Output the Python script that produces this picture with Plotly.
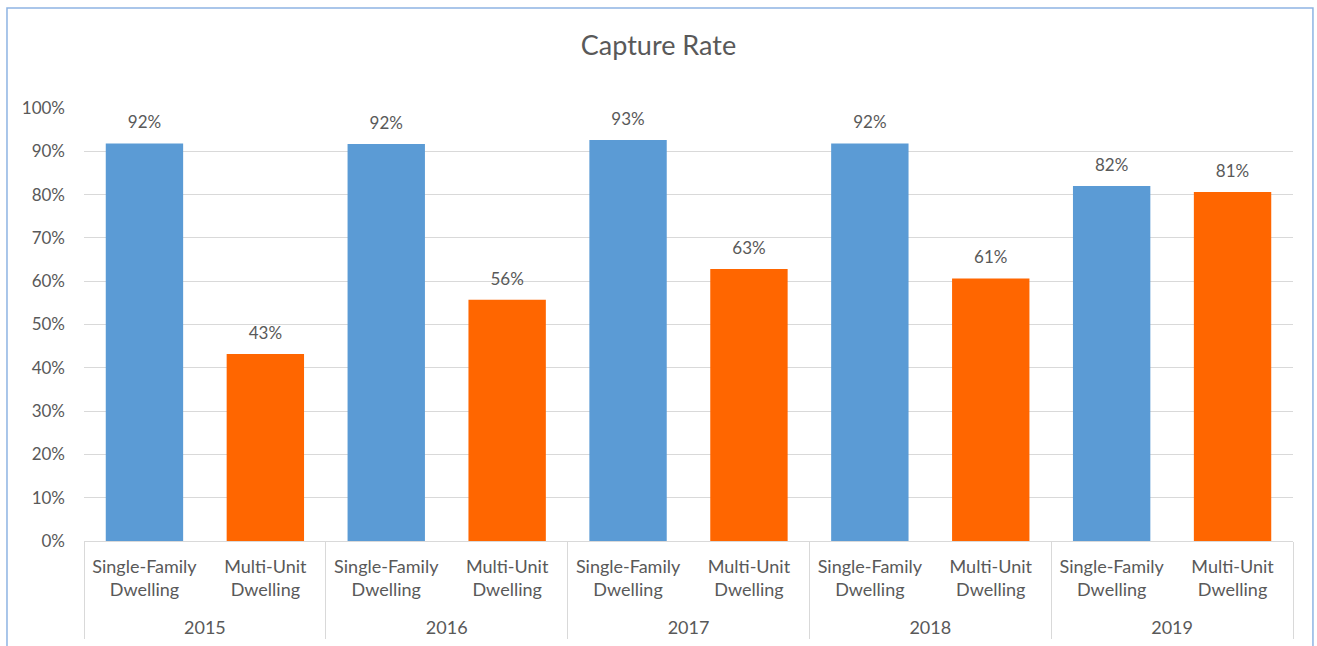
import plotly.graph_objects as go

years = ["2015", "2015", "2016", "2016", "2017", "2017", "2018", "2018", "2019", "2019"]
types = ["Single-Family<br>Dwelling<br> ", "Multi-Unit<br>Dwelling<br> "] * 5
values = [0.918, 0.432, 0.917, 0.557, 0.926, 0.628, 0.918, 0.606, 0.82, 0.806]
colors = ["#5B9BD5", "#FF6600"] * 5
tick_vals = [i / 10 for i in range(11)]
tick_text = [f"{i*10}%" for i in range(11)]

FONT = "Lato, Open Sans, sans-serif"
GRAY = "#595959"

fig = go.Figure()
fig.add_trace(go.Bar(
    x=[years, types], y=values,
    marker=dict(color=colors, line=dict(width=0)),
    hoverinfo="skip",
))
fig.add_trace(go.Scatter(
    x=[years, types], y=values,
    mode="markers+text",
    text=[f"{round(v*100)}%" for v in values],
    textposition="top center",
    marker=dict(size=16, color="rgba(0,0,0,0)"),
    textfont=dict(family=FONT, size=17, color=GRAY),
    hoverinfo="skip",
    cliponaxis=False,
))

fig.update_layout(
    width=1317, height=646,
    margin=dict(l=84, r=24, t=108, b=105),
    paper_bgcolor="white", plot_bgcolor="white",
    showlegend=False,
    bargap=0.36,
    title=dict(text="Capture Rate", x=0.5, xanchor="center", y=0.93, yanchor="middle",
               font=dict(family=FONT, size=27, color=GRAY)),
    font=dict(family=FONT, size=17, color=GRAY),
    xaxis=dict(
        type="multicategory",
        range=[-0.5, 9.5], autorange=False,
        automargin=False,
        showline=True, linecolor="#D9D9D9", linewidth=1,
        showdividers=True, dividercolor="#D9D9D9", dividerwidth=1,
        tickfont=dict(family=FONT, size=18, color=GRAY),
        ticks="",
        ticklabelstandoff=9,
        showgrid=False,
    ),
    yaxis=dict(
        range=[0, 1], tickvals=tick_vals, ticktext=tick_text,
        automargin=False,
        showgrid=True, gridcolor="#D9D9D9", gridwidth=1,
        zeroline=False, showline=False,
        tickfont=dict(family=FONT, size=17, color=GRAY),
        ticks="", ticklabelstandoff=18,
    ),
    shapes=[dict(
        type="rect", xref="paper", yref="paper",
        x0=-0.0637, x1=1.0165, y0=-0.26, y1=1.231,
        line=dict(color="#8EB4E3", width=1.5), fillcolor="rgba(0,0,0,0)",
        layer="below",
    )],
)

fig.write_html("out.html")
